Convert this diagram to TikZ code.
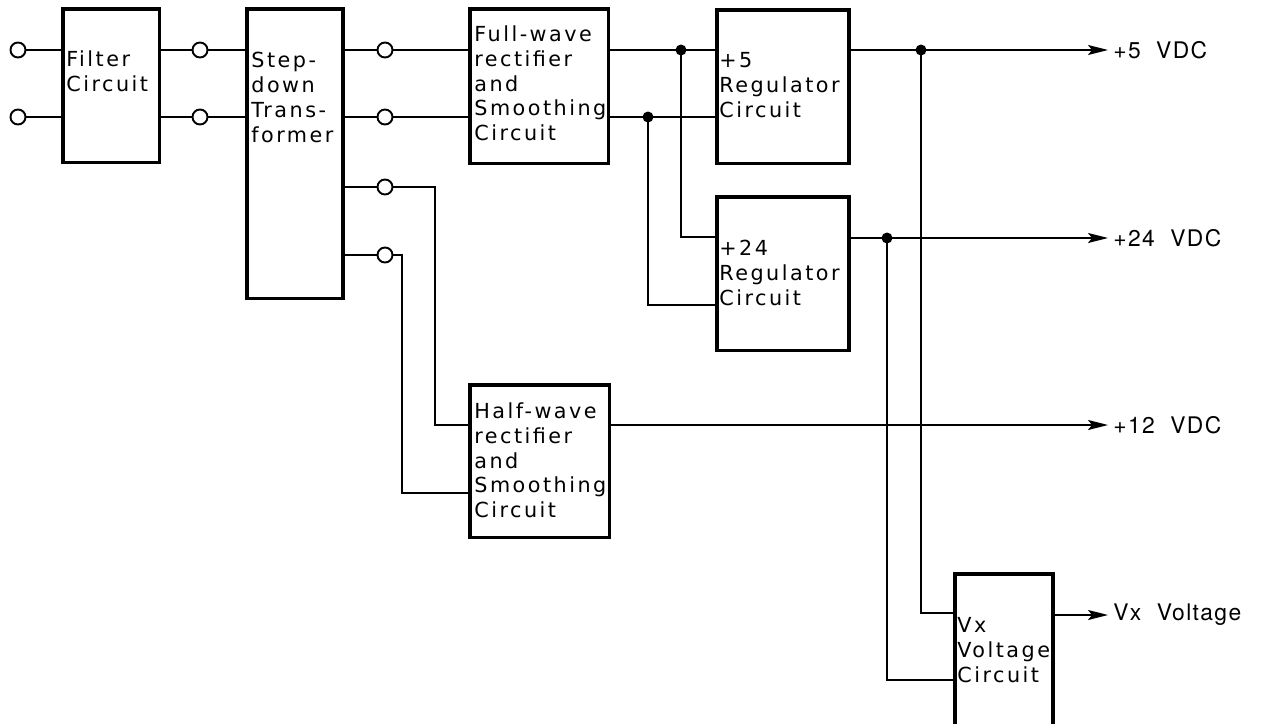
\documentclass[tikz,border=0pt]{standalone}
\usepackage{fontspec}
\newfontfamily\blkfont[LetterSpace=12]{DejaVu Sans}
\newfontfamily\outfont[LetterSpace=6]{TeX Gyre Heros}
\usetikzlibrary{arrows.meta}

\begin{document}
\begin{tikzpicture}[x=0.02cm, y=-0.02cm, >={Stealth[length=0.4cm, width=0.2cm, inset=0.08cm]},
  wire/.style={line width=1.05pt},
  blk/.style={draw, line width=2pt, anchor=north west, inner sep=0pt},
  txt/.style={anchor=north west, inner sep=0pt, align=left, font=\blkfont\fontsize{11.8}{14.2}\selectfont},
  term/.style={draw, circle, line width=1.1pt, fill=white, minimum size=0.3cm, inner sep=0pt},
  outlbl/.style={anchor=west, inner sep=0.1cm, font=\outfont\fontsize{13}{15}\selectfont}]
\useasboundingbox (0,0) rectangle (1266,723);
% blocks
\node[blk, minimum width=1.94cm, minimum height=3.08cm] (filter) at (61,7) {};
\node[blk, minimum width=1.92cm, minimum height=5.80cm] (trans) at (245,7) {};
\node[blk, minimum width=2.78cm, minimum height=3.10cm] (full) at (468,7) {};
\node[blk, minimum width=2.64cm, minimum height=3.08cm] (reg5) at (715,8) {};
\node[blk, minimum width=2.64cm, minimum height=3.08cm] (reg24) at (715,195) {};
\node[blk, minimum width=2.80cm, minimum height=3.06cm] (half) at (468,383) {};
\node[blk, minimum width=1.96cm, minimum height=3.10cm] (vx) at (953,572) {};
% block texts
\node[txt] (tfilter) at (66,50) {Filter\\Circuit};
\node[txt] (ttrans) at (251,52) {Step-\\down\\Trans-\\former};
\node[txt] (tfull) at (474,25) {Full-wave\\rectifier\\and\\Smoothing\\Circuit};
\node[txt] (treg5) at (719,52) {+5\\Regulator\\Circuit};
\node[txt] (treg24) at (719,240) {+24\\Regulator\\Circuit};
\node[txt] (thalf) at (474,402) {Half-wave\\rectifier\\and\\Smoothing\\Circuit};
\node[txt] (tvx) at (957,617) {Vx\\Voltage\\Circuit};
% input terminals -> filter
\node[term] (in1) at (18,50) {};
\node[term] (in2) at (18,117) {};
\draw[wire] (in1) -- (in1 -| filter.west);
\draw[wire] (in2) -- (in2 -| filter.west);
% filter -> transformer
\node[term] (fa) at (200,50) {};
\node[term] (fb) at (200,117) {};
\draw[wire] (fa -| filter.east) -- (fa) -- (fa -| trans.west);
\draw[wire] (fb -| filter.east) -- (fb) -- (fb -| trans.west);
% transformer secondaries
\node[term] (sa) at (385,50) {};
\node[term] (sb) at (385,117) {};
\node[term] (sc) at (385,187) {};
\node[term] (sd) at (385,255) {};
\draw[wire] (sa -| trans.east) -- (sa) -- (sa -| full.west);
\draw[wire] (sb -| trans.east) -- (sb) -- (sb -| full.west);
\coordinate (hw1) at (half.west |- 0,425);
\coordinate (hw2) at (half.west |- 0,493);
\draw[wire] (sc -| trans.east) -- (sc) -| (435,425) -- (hw1);
\draw[wire] (sd -| trans.east) -- (sd) -| (402,493) -- (hw2);
% full-wave -> regulators
\coordinate (ja) at (681,50);
\coordinate (jb) at (648,117);
\draw[wire] (ja -| full.east) -- (ja -| reg5.west);
\draw[wire] (jb -| full.east) -- (jb -| reg5.west);
\draw[wire] (ja) |- (reg24.west |- 0,237);
\draw[wire] (jb) |- (reg24.west |- 0,305);
\fill (ja) circle (0.11cm);
\fill (jb) circle (0.11cm);
% outputs
\node[outlbl] (o5) at (1108,50) {+5\ \ VDC};
\node[outlbl] (o24) at (1108,238) {+24\ \ VDC};
\node[outlbl] (o12) at (1108,425) {+12\ \ VDC};
\node[outlbl] (ovx) at (1108,615) {Vx\ \ Voltage};
\draw[wire, ->] (o5 -| reg5.east) -- (o5.west);
\draw[wire, ->] (o24 -| reg24.east) -- (o24.west);
\draw[wire, ->] (o12 -| half.east) -- (o12.west);
\draw[wire, ->] (ovx -| vx.east) -- (ovx.west);
% taps to Vx circuit
\coordinate (jc) at (921,50);
\coordinate (jd) at (887,238);
\draw[wire] (jc) |- (vx.west |- 0,613);
\draw[wire] (jd) |- (vx.west |- 0,680);
\fill (jc) circle (0.11cm);
\fill (jd) circle (0.11cm);
\end{tikzpicture}
\end{document}
